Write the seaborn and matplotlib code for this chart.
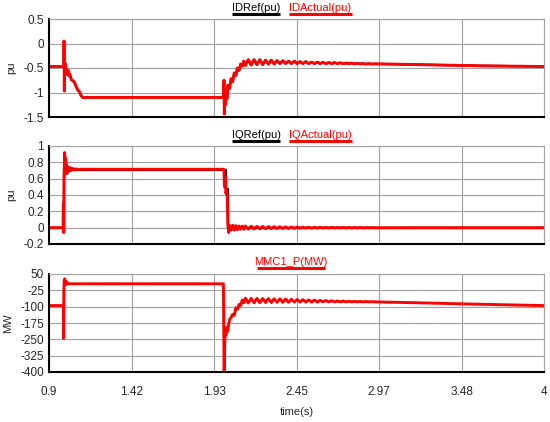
import numpy as np
import pandas as pd
import matplotlib
matplotlib.use("Agg")
import matplotlib.pyplot as plt
import seaborn as sns

# ---- data ----
xtick_labels = ['0.9', '1.42', '1.93', '2.45', '2.97', '3.48', '4']

# shared time grid of the post-fault ripple
t_osc = [2.130, 2.148, 2.166, 2.184, 2.202, 2.220, 2.238, 2.256, 2.274, 2.292,
         2.310, 2.328, 2.346, 2.364, 2.382, 2.400, 2.418, 2.436, 2.454, 2.472,
         2.490, 2.508, 2.526, 2.544, 2.562, 2.580, 2.598, 2.616, 2.634, 2.652,
         2.670, 2.688, 2.706, 2.724, 2.742, 2.760, 2.778, 2.796, 2.814, 2.832,
         2.850, 2.868, 2.886, 2.904, 2.922, 2.940]
t_tail = [3.2, 3.6, 4.0]

# IDActual(pu)
id_t = [0.9, 0.993, 0.994, 0.996, 0.998, 1.001, 1.005, 1.01, 1.015, 1.02, 1.025,
        1.03, 1.04, 1.05, 1.06, 1.07, 1.08, 1.09, 1.10, 1.11, 1.12, 1.13, 1.99,
        1.993, 1.996, 1.998, 2.001, 2.005, 2.01, 2.015, 2.02, 2.03, 2.04, 2.05,
        2.06, 2.07, 2.08, 2.09, 2.10, 2.11, 2.12]
id_v = [-0.47, -0.47, 0.05, -0.97, -0.45, -0.40, -0.62, -0.52, -0.63, -0.55, -0.66,
        -0.62, -0.74, -0.76, -0.80, -0.88, -0.95, -0.98, -1.06, -1.10, -1.11, -1.10, -1.10,
        -1.10, -0.75, -1.44, -0.95, -1.25, -1.05, -1.12, -0.85, -0.92, -0.72, -0.78,
        -0.60, -0.65, -0.50, -0.55, -0.42, -0.46, -0.36]
id_osc = [-0.45, -0.33, -0.44, -0.33, -0.43, -0.33, -0.43, -0.34, -0.42, -0.34,
          -0.42, -0.35, -0.41, -0.35, -0.41, -0.36, -0.41, -0.36, -0.41, -0.37,
          -0.41, -0.37, -0.41, -0.38, -0.41, -0.38, -0.41, -0.385, -0.41, -0.39,
          -0.41, -0.39, -0.41, -0.395, -0.41, -0.40, -0.41, -0.40, -0.415, -0.405,
          -0.415, -0.41, -0.42, -0.41, -0.42, -0.415]
id_tail = [-0.43, -0.455, -0.47]

# IDRef(pu) is fully hidden under IDActual in the reference
idref_t = id_t
idref_v = id_v

# IQActual(pu)
iq_t = [0.9, 0.988, 0.990, 0.992, 0.994, 0.998, 1.000, 1.003, 1.006, 1.009, 1.012,
        1.015, 1.02, 1.025, 1.03, 1.035, 1.04, 1.05, 1.06, 1.07, 1.08, 1.10, 1.99,
        1.993, 1.996, 1.999, 2.003, 2.008, 2.012, 2.016, 2.02, 2.025, 2.03, 2.04,
        2.05, 2.06, 2.07, 2.08, 2.09, 2.10, 2.11, 2.12]
iq_v = [0.0, 0.0, 0.3, -0.06, 0.55, 0.92, 0.78, 0.85, 0.68, 0.78, 0.66,
        0.75, 0.69, 0.74, 0.70, 0.73, 0.70, 0.725, 0.705, 0.72, 0.71, 0.715, 0.715,
        0.715, 0.70, 0.50, 0.62, 0.42, 0.45, 0.40, 0.05, -0.06, 0.03, -0.03,
        0.03, -0.03, 0.025, -0.025, 0.02, -0.02, 0.02, -0.02]
iq_osc = [0.02, -0.018, 0.018, -0.016, 0.016, -0.015, 0.015, -0.013, 0.013, -0.012,
          0.012, -0.011, 0.011, -0.01, 0.01, -0.009, 0.009, -0.008, 0.008, -0.007,
          0.007, -0.006, 0.006, -0.006, 0.005, -0.005, 0.005, -0.004, 0.004, -0.004,
          0.004, -0.003, 0.003, -0.003, 0.003, -0.003, 0.002, -0.002, 0.002, -0.002,
          0.002, -0.002, 0.001, -0.001, 0.001, -0.001]
iq_tail = [0.0, 0.0, 0.0]

# IQRef(pu)
iqref_t = [0.9, 0.997, 0.997, 2.006, 2.006, 2.018, 2.018, 4.0]
iqref_v = [0.0, 0.0, 0.71, 0.71, 0.47, 0.47, 0.0, 0.0]

# MMC1_P(MW)
p_t = [0.9, 0.990, 0.991, 0.993, 0.995, 0.998, 1.001, 1.004, 1.008, 1.012, 1.016,
       1.02, 1.03, 1.99, 1.992, 1.994, 1.997, 2.000, 2.004, 2.008, 2.012, 2.016,
       2.02, 2.03, 2.04, 2.05, 2.06, 2.07, 2.08, 2.09, 2.10, 2.11, 2.12]
p_v = [-95, -95, -245, -30, 20, 28, 5, 18, 3, 12, 4,
       7, 5, 5, 5, -150, -420, -280, -200, -230, -195, -215,
       -205, -160, -150, -135, -140, -105, -112, -90, -95, -70, -82]
p_osc = [-61, -83, -62, -82, -62, -82, -63, -81, -63, -81, -64, -80, -64, -80,
         -65, -80, -66, -79, -67, -79, -68, -79, -69, -79, -70, -79, -71, -78,
         -72, -78, -73, -78, -74, -78, -74.5, -78, -75, -78, -75.5, -78, -76, -78,
         -76.5, -78, -77, -78]
p_tail = [-82, -89, -95]


def series(t, v, osc=None, tail=None):
    tt, vv = list(t), list(v)
    if osc is not None:
        tt += t_osc + t_tail
        vv += osc + tail
    return pd.DataFrame({'t': tt, 'v': vv})


sns.set_style('white')
plt.rcParams['font.family'] = ['Liberation Sans', 'DejaVu Sans']
plt.rcParams['font.size'] = 8

fig = plt.figure(figsize=(5.5, 4.22), dpi=100)
left, width, height = 49 / 550, 495 / 550, 98 / 422
axes = [fig.add_axes([left, 1 - 117 / 422, width, height]),
        fig.add_axes([left, 1 - 244 / 422, width, height]),
        fig.add_axes([left, 1 - 372 / 422, width, height])]

panels = [
    (series(idref_t, idref_v, id_osc, id_tail), series(id_t, id_v, id_osc, id_tail),
     (-1.5, 0.5), np.arange(-1.5, 0.51, 0.5), ['-1.5', '-1', '-0.5', '0', '0.5'], 'pu'),
    (series(iqref_t, iqref_v), series(iq_t, iq_v, iq_osc, iq_tail),
     (-0.2, 1.0), np.arange(-0.2, 1.01, 0.2), ['-0.2', '0', '0.2', '0.4', '0.6', '0.8', '1'], 'pu'),
    (None, series(p_t, p_v, p_osc, p_tail),
     (-400, 50), np.arange(-400, 51, 75), ['-400', '-325', '-250', '-175', '-100', '-25', '50'], 'MW'),
]

xticks = np.linspace(0.9, 4.0, 7)
for ax, (ref, act, ylim, yt, ytl, ylab) in zip(axes, panels):
    if ref is not None:
        sns.lineplot(data=ref, x='t', y='v', ax=ax, color='black', lw=1.6,
                     estimator=None, sort=False)
    sns.lineplot(data=act, x='t', y='v', ax=ax, color='#ff0000', lw=2.1,
                 estimator=None, sort=False)
    ax.set_xlim(0.9, 4.0)
    ax.set_ylim(*ylim)
    ax.set_yticks(yt, labels=ytl)
    ax.set_xticks(xticks)
    ax.grid(True, color='#a0a0a0', lw=0.8)
    ax.set_axisbelow(True)
    ax.tick_params(length=0, pad=3.5, labelsize=8.5)
    for s in ['left', 'bottom']:
        ax.spines[s].set_color('black')
        ax.spines[s].set_linewidth(1.5)
    for s in ['top', 'right']:
        ax.spines[s].set_color('#a0a0a0')
        ax.spines[s].set_linewidth(0.8)
    ax.set_ylabel(ylab, fontsize=8)
    ax.yaxis.set_label_coords(-0.066 if ylab == 'pu' else -0.072, 0.5)
    ax.set_xlabel('')

axes[0].tick_params(labelbottom=False)
axes[1].tick_params(labelbottom=False)
axes[2].set_xticks(xticks, labels=xtick_labels)
axes[2].tick_params(axis='x', pad=10)
axes[2].set_xlabel('time(s)', fontsize=8)
axes[2].xaxis.set_label_coords(0.5, -0.36)


def tag(ax, text, x0, x1, ty, ly, color):
    ax.text((x0 + x1) / 2, ty, text, transform=ax.transAxes, ha='center',
            va='center', color=color, fontsize=8)
    ax.plot([x0, x1], [ly, ly], transform=ax.transAxes, color=color, lw=2.2,
            clip_on=False, solid_capstyle='butt')


tag(axes[0], 'IDRef(pu)', 0.370, 0.467, 1.115, 1.05, 'black')
tag(axes[0], 'IDActual(pu)', 0.485, 0.612, 1.115, 1.05, '#ff0000')
tag(axes[1], 'IQRef(pu)', 0.370, 0.467, 1.115, 1.05, 'black')
tag(axes[1], 'IQActual(pu)', 0.485, 0.612, 1.115, 1.05, '#ff0000')
tag(axes[2], 'MMC1_P(MW)', 0.42, 0.557, 1.125, 1.06, '#ff0000')

fig.savefig('out.png', dpi=100)
